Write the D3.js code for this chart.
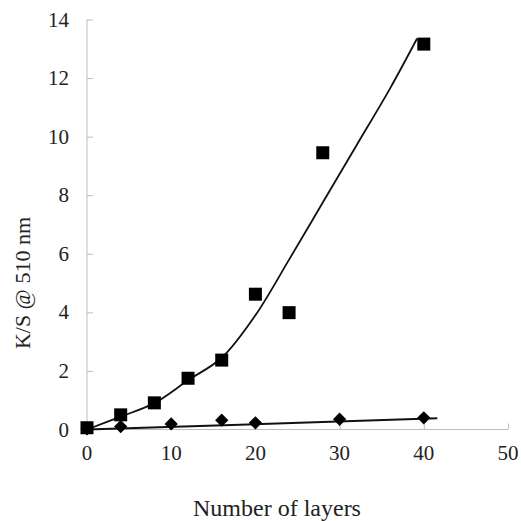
<!DOCTYPE html>
<html>
<head>
<meta charset="utf-8">
<script src="https://cdn.jsdelivr.net/npm/d3@7"></script>
<style>
  body { margin: 0; background: #fff; }
  text { font-family: "Liberation Serif", "Times New Roman", serif; fill: #222; }
</style>
</head>
<body>
<div id="chart"></div>
<script>
// squares series
const squareX = [0, 4, 8, 12, 16, 20, 24, 28, 40];
const squareY = [0.06, 0.5, 0.91, 1.75, 2.37, 4.62, 3.99, 9.45, 13.16];
// diamonds series
const diamondX = [0, 4, 10, 16, 20, 30, 40];
const diamondY = [0.02, 0.1, 0.19, 0.32, 0.23, 0.35, 0.4];
// trend lines
const squareTrendX = [0, 4, 8, 12, 16, 20, 24, 28, 32, 36, 39.2];
const squareTrendY = [0, 0.44, 0.9, 1.68, 2.45, 3.9, 5.8, 7.75, 9.7, 11.65, 13.35];
const diamondTrendX = [0, 41.6];
const diamondTrendY = [0.0, 0.38];

const xTicks = [0, 10, 20, 30, 40, 50];
const yTicks = [0, 2, 4, 6, 8, 10, 12, 14];

const W = 521, H = 521;
const svg = d3.select("#chart").append("svg").attr("width", W).attr("height", H);

const x = d3.scaleLinear().domain([0, 50]).range([87, 508]);
const y = d3.scaleLinear().domain([0, 14]).range([429.5, 19.5]);

// axes
const axisCol = "#bdbdbd";
const gx = svg.append("g").attr("transform", `translate(0,${y(0)})`)
    .call(d3.axisTop(x).tickValues(xTicks).tickSize(6).tickFormat(""));
gx.select(".domain").attr("stroke", axisCol).attr("d", `M${x(0)},0H${x(50)}`);
gx.selectAll(".tick line").attr("stroke", axisCol);

const gy = svg.append("g").attr("transform", `translate(${x(0)},0)`)
    .call(d3.axisRight(y).tickValues(yTicks).tickSize(6).tickFormat(""));
gy.select(".domain").attr("stroke", axisCol).attr("d", `M0,${y(0)}V${y(14)}`);
gy.selectAll(".tick line").attr("stroke", axisCol);

// tick labels
svg.append("g").selectAll("text").data(xTicks).enter().append("text")
    .attr("x", d => x(d)).attr("y", 460)
    .attr("text-anchor", "middle").style("font-size", "21px")
    .text(d => d);
svg.append("g").selectAll("text").data(yTicks).enter().append("text")
    .attr("x", 69).attr("y", d => y(d)).attr("dy", "0.34em")
    .attr("text-anchor", "end").style("font-size", "21px")
    .text(d => d);

// axis titles
svg.append("text").attr("x", 277).attr("y", 516)
    .attr("text-anchor", "middle").style("font-size", "24px")
    .text("Number of layers");
svg.append("text").attr("transform", `translate(30,${y(5)}) rotate(-90)`)
    .attr("text-anchor", "middle").style("font-size", "22px")
    .text("K/S @ 510 nm");

// trend lines
const line = d3.line().x(d => x(d[0])).y(d => y(d[1])).curve(d3.curveCatmullRom.alpha(0.5));
svg.append("path").datum(squareTrendX.map((v, i) => [v, squareTrendY[i]]))
    .attr("d", line).attr("fill", "none").attr("stroke", "#111").attr("stroke-width", 1.8);
svg.append("path").datum(diamondTrendX.map((v, i) => [v, diamondTrendY[i]]))
    .attr("d", line).attr("fill", "none").attr("stroke", "#111").attr("stroke-width", 2);

// markers
const diamond = d3.symbol().type(d3.symbolSquare).size(88);
svg.append("g").selectAll("path").data(diamondX.map((v, i) => [v, diamondY[i]])).enter().append("path")
    .attr("d", diamond)
    .attr("transform", d => `translate(${x(d[0])},${y(d[1])}) rotate(45)`)
    .attr("fill", "#000");

const s = 13;
svg.append("g").selectAll("rect").data(squareX.map((v, i) => [v, squareY[i]])).enter().append("rect")
    .attr("x", d => x(d[0]) - s / 2).attr("y", d => y(d[1]) - s / 2)
    .attr("width", s).attr("height", s).attr("fill", "#000");
</script>
</body>
</html>
